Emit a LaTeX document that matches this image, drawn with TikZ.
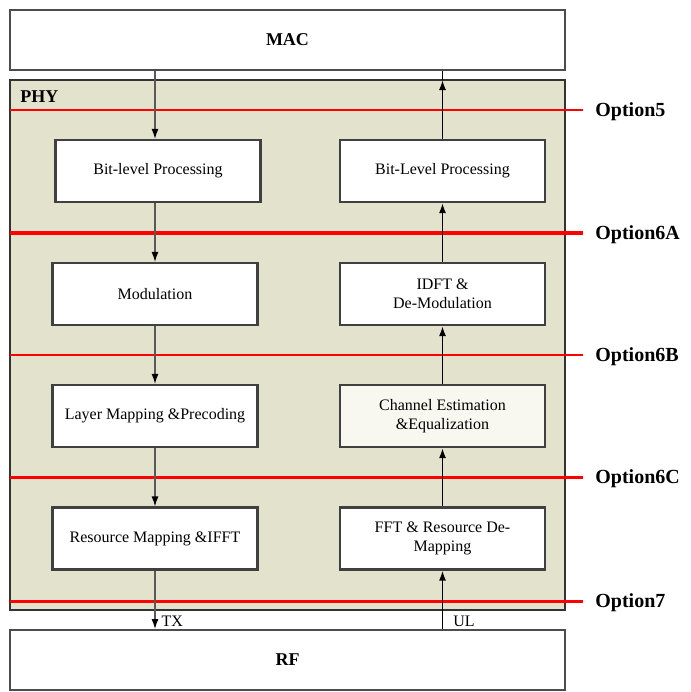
\documentclass[tikz,border=0pt]{standalone}
\usepackage{fontspec}
\setmainfont{Liberation Serif}
\usetikzlibrary{arrows.meta}
\definecolor{phybg}{RGB}{227,226,204}
\definecolor{chbg}{RGB}{248,248,240}
\begin{document}
\begin{tikzpicture}[x=0.5pt,y=-0.5pt,
  layerbox/.style={draw=gray!60!black,line width=1pt,fill=white,minimum width=277.5pt,minimum height=30pt,font=\small\bfseries},
  blockbox/.style={draw=gray!50!black,line width=1.1pt,fill=white,minimum width=102.5pt,minimum height=31pt,align=center,font=\footnotesize,inner sep=1pt},
  dnarrow/.style={draw=gray!70!black,line width=0.6pt,-{Latex[length=5pt,width=3.5pt,black]}},
  uparrow/.style={draw=black,line width=0.8pt,-{Latex[length=5pt,width=3.5pt]}},
  optlabel/.style={right,font=\bfseries,inner sep=0pt}]
  \useasboundingbox (0,0) rectangle (691,692);
  % layers
  \node[layerbox] (mac) at (287.5,40) {MAC};
  \draw[draw=gray!40!black,line width=1.1pt,fill=phybg] (10,80) rectangle (565,610);
  \coordinate (phytop) at (10,80);
  \node[font=\small\bfseries,anchor=west,inner sep=0pt] (phy) at (20,97) {PHY};
  \node[layerbox] (rf) at (287.5,660) {RF};
  % downlink chain
  \node[blockbox] (txbit) at (158,171) {Bit-level Processing};
  \node[blockbox] (txmod) at (155,294) {Modulation};
  \node[blockbox] (txmap) at (155,416) {Layer Mapping \&Precoding};
  \node[blockbox] (txres) at (155,538.5) {Resource Mapping \&IFFT};
  % uplink chain
  \node[blockbox] (rxbit) at (442.5,171) {Bit-Level Processing};
  \node[blockbox] (rxmod) at (442.5,294) {IDFT \&\\De-Modulation};
  \node[blockbox,fill=chbg] (rxest) at (442.5,416) {Channel Estimation\\\&Equalization};
  \node[blockbox] (rxfft) at (442.5,538.5) {FFT \& Resource De-\\Mapping};
  % split options
  \foreach \yy/\lw/\opt in {110/0.9/Option5,233/2/Option6A,355/1.1/Option6B,477/1.5/Option6C,601/1.5/Option7}{
    \draw[red,line width=\lw pt] (10,\yy) -- (583,\yy);
    \node[optlabel] (\opt) at (595,\yy+2) {\opt};
  }
  % arrows
  \draw[dnarrow] (mac.south -| txmod) -- (txbit.north -| txmod);
  \draw[dnarrow] (txbit.south -| txmod) -- (txmod);
  \draw[dnarrow] (txmod) -- (txmap);
  \draw[dnarrow] (txmap) -- (txres);
  \draw[dnarrow] (txres) -- (txres.south |- rf.north) node[above right,font=\footnotesize,inner sep=1pt,xshift=2pt] (tx) {TX};
  \draw[uparrow] (rxfft.south |- rf.north) node[above right,font=\footnotesize,inner sep=1pt,xshift=4pt] (ul) {UL} -- (rxfft);
  \draw[uparrow] (rxfft) -- (rxest);
  \draw[uparrow] (rxest) -- (rxmod);
  \draw[uparrow] (rxmod) -- (rxbit);
  \draw[uparrow] (rxbit) -- (rxbit.north |- phytop);
  \draw[line width=0.8pt] (rxbit.north |- phytop) -- (rxbit.north |- mac.south);
\end{tikzpicture}
\end{document}
